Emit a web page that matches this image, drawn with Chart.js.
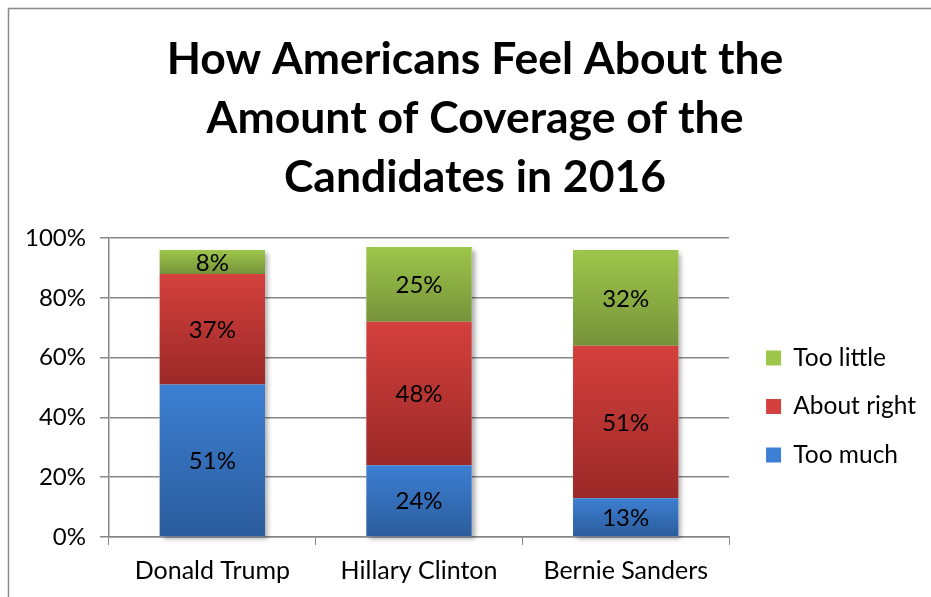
<!DOCTYPE html>
<html>
<head>
<meta charset="utf-8">
<title>Coverage of the Candidates</title>
<script src="https://cdn.jsdelivr.net/npm/chart.js@4"></script>
<style>
  html, body { margin: 0; padding: 0; background: #fff; }
  #wrap { width: 931px; height: 597px; position: relative; }
</style>
</head>
<body>
<div id="wrap"><canvas id="coverage"></canvas></div>
<script>
(function () {
  'use strict';

  // ── Data ────────────────────────────────────────────────────────────────────
  const candidates = ['Donald Trump', 'Hillary Clinton', 'Bernie Sanders'];
  const tooMuch    = [51, 24, 13];
  const aboutRight = [37, 48, 51];
  const tooLittle  = [8, 25, 32];
  const yTicks     = [0, 20, 40, 60, 80, 100];

  // top / bottom shades of each series (Excel-style vertical gradient)
  const shades = [
    ['#3d7fd2', '#2b5c9c'],   // Too much
    ['#d4403d', '#9b2927'],   // About right
    ['#9dc64b', '#76933a'],   // Too little
  ];
  const series = [tooMuch, aboutRight, tooLittle];

  const FONT = "Lato, 'Open Sans', sans-serif";

  function segmentFill(ctx) {
    const chart = ctx.chart;
    const flat  = shades[ctx.datasetIndex][0];
    if (ctx.type !== 'data' || !chart.chartArea || !chart.scales.y) return flat;
    const i = ctx.dataIndex;
    let start = 0;
    for (let d = 0; d < ctx.datasetIndex; d++) start += series[d][i];
    const end = start + series[ctx.datasetIndex][i];
    const y = chart.scales.y;
    const g = chart.ctx.createLinearGradient(0, y.getPixelForValue(end), 0, y.getPixelForValue(start));
    g.addColorStop(0, shades[ctx.datasetIndex][0]);
    g.addColorStop(1, shades[ctx.datasetIndex][1]);
    return g;
  }

  // ── Plugins ─────────────────────────────────────────────────────────────────
  const frame = {
    id: 'frame',
    beforeDraw(chart) {
      const c = chart.ctx;
      c.save();
      c.strokeStyle = '#8a8a8a';
      c.lineWidth = 1.5;
      c.beginPath();
      c.moveTo(8.5, chart.height);
      c.lineTo(8.5, 8.5);
      c.lineTo(chart.width, 8.5);
      c.stroke();
      c.restore();
    }
  };

  // nudge legend down/right and title right after layout
  const nudge = {
    id: 'nudge',
    afterLayout(chart) {
      const lg = chart.legend;
      if (lg) { lg.left += 13; lg.right += 13; lg.top += 97; lg.bottom += 97; }
      const tb = chart.titleBlock;
      if (tb) { tb.left += 13; tb.right += 13; }
    }
  };

  // soft drop shadow behind each stacked column
  const columnShadow = {
    id: 'columnShadow',
    beforeDatasetsDraw(chart) {
      const c = chart.ctx;
      const bottom = chart.getDatasetMeta(0).data;
      const top = chart.getDatasetMeta(series.length - 1).data;
      c.save();
      c.shadowColor = 'rgba(0,0,0,0.35)';
      c.shadowBlur = 5;
      c.shadowOffsetX = 3;
      c.shadowOffsetY = 3;
      c.fillStyle = '#ffffff';
      bottom.forEach((el, i) => {
        const t = top[i];
        c.fillRect(el.x - el.width / 2, t.y, el.width, el.base - t.y);
      });
      c.restore();
    }
  };

  const valueLabels = {
    id: 'valueLabels',
    afterDatasetsDraw(chart) {
      const c = chart.ctx;
      c.save();
      c.font = '24px ' + FONT;
      c.fillStyle = '#000';
      c.textAlign = 'center';
      c.textBaseline = 'middle';
      chart.data.datasets.forEach((ds, d) => {
        chart.getDatasetMeta(d).data.forEach((el, i) => {
          c.fillText(ds.data[i] + '%', el.x, (el.y + el.base) / 2 + 1);
        });
      });
      c.restore();
    }
  };

  // ── Chart ───────────────────────────────────────────────────────────────────
  new Chart(document.getElementById('coverage'), {
    type: 'bar',
    data: {
      labels: candidates,
      datasets: [
        { label: 'Too much',    data: tooMuch },
        { label: 'About right', data: aboutRight },
        { label: 'Too little',  data: tooLittle },
      ].map(ds => Object.assign(ds, {
        backgroundColor: segmentFill,
        borderWidth: 0,
        barPercentage: 0.51,
        categoryPercentage: 1,
      }))
    },
    options: {
      responsive: true,
      maintainAspectRatio: false,
      animation: false,
      layout: { padding: { left: 11, right: 18, top: 22, bottom: 0 } },
      plugins: {
        title: {
          display: true,
          text: ['How Americans Feel About the', 'Amount of Coverage of the', 'Candidates in 2016'],
          color: '#000',
          font: { family: FONT, size: 44.5, weight: 'bold', lineHeight: 1.326 },
          padding: { top: 8, bottom: 31 }
        },
        legend: {
          position: 'right',
          reverse: true,
          labels: {
            color: '#000',
            font: { family: FONT, size: 24.5 },
            boxWidth: 15,
            boxHeight: 15,
            padding: 24,
            generateLabels(chart) {
              const items = Chart.defaults.plugins.legend.labels.generateLabels(chart);
              items.forEach(it => {
                it.fillStyle = shades[it.datasetIndex][0];
                it.strokeStyle = 'rgba(0,0,0,0)';
                it.lineWidth = 0;
              });
              return items;
            }
          }
        },
        tooltip: { enabled: false }
      },
      scales: {
        x: {
          stacked: true,
          grid: { drawOnChartArea: false, color: '#868686', tickLength: 8, tickColor: '#868686' },
          border: { color: '#868686', width: 1.5 },
          ticks: { color: '#000', font: { family: FONT, size: 25 }, padding: 11 }
        },
        y: {
          stacked: true,
          min: 0,
          max: 100,
          afterBuildTicks(axis) { axis.ticks = yTicks.map(v => ({ value: v })); },
          grid: { color: '#878787', lineWidth: 1.5, tickLength: 9, tickColor: '#878787' },
          border: { color: '#878787', width: 1.5 },
          ticks: { color: '#000', font: { family: FONT, size: 24 }, padding: 14, callback: v => v + '%' }
        }
      }
    },
    plugins: [frame, nudge, columnShadow, valueLabels]
  });
})();
</script>
</body>
</html>
